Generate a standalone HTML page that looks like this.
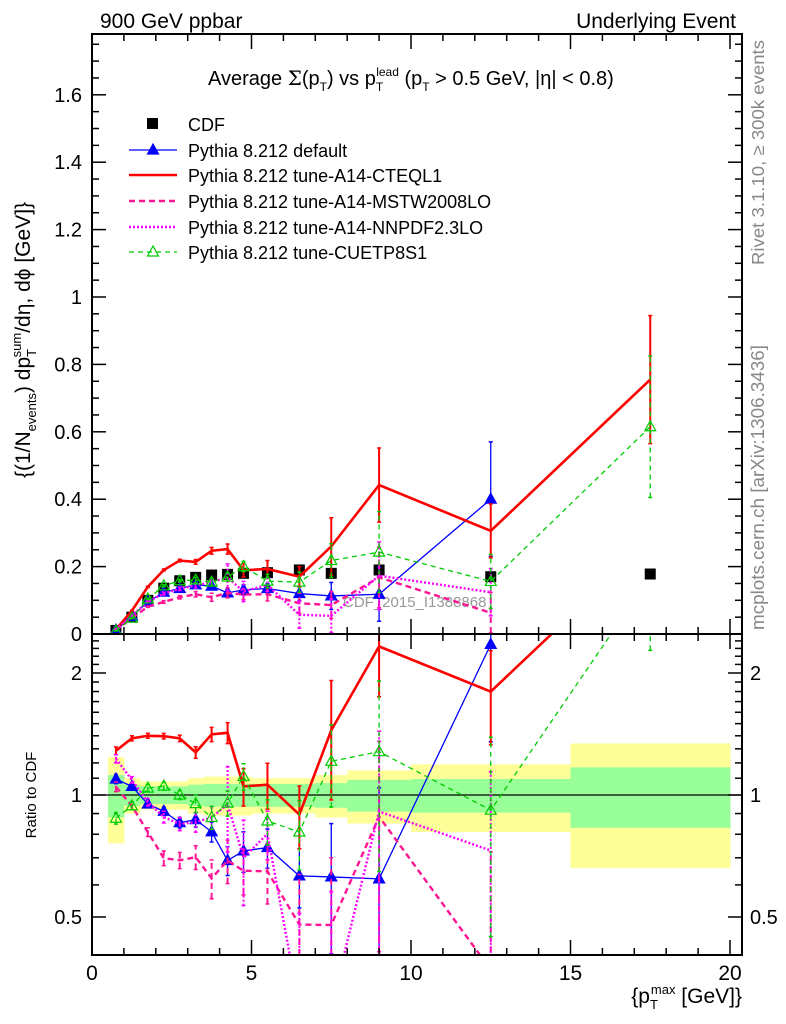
<!DOCTYPE html>
<html><head><meta charset="utf-8"><style>
html,body{margin:0;padding:0;background:#fff;overflow:hidden;width:786px;height:1024px;}
svg{display:block;font-family:"Liberation Sans",sans-serif;}
</style></head><body>
<svg id="chart" width="786" height="1024" viewBox="0 0 786 1024" xmlns="http://www.w3.org/2000/svg">
<defs>
<clipPath id="clipMain"><rect x="92" y="34" width="650" height="600"/></clipPath>
<clipPath id="clipRatio"><rect x="92" y="634" width="650" height="321"/></clipPath>
</defs>
<text x="100" y="28" font-size="21">900 GeV ppbar</text>
<text x="736" y="28" font-size="21" text-anchor="end">Underlying Event</text>
<text x="208" y="85" font-size="20">Average <tspan font-family="'DejaVu Serif',serif">Σ</tspan>(p<tspan font-size="12" dy="6">T</tspan><tspan dy="-6">) vs p</tspan><tspan font-size="12" dy="6">T</tspan><tspan font-size="12" dx="-7" dy="-15">lead</tspan><tspan dy="9"> (p</tspan><tspan font-size="12" dy="6">T</tspan><tspan dy="-6"> &gt; 0.5 GeV, |η| &lt; 0.8)</tspan></text>
<text transform="translate(764,265) rotate(-90)" font-size="17.5" textLength="225" lengthAdjust="spacingAndGlyphs" fill="#888">Rivet 3.1.10, ≥ 300k events</text>
<text transform="translate(764,630) rotate(-90)" font-size="18" textLength="285" lengthAdjust="spacingAndGlyphs" fill="#888">mcplots.cern.ch [arXiv:1306.3436]</text>
<text transform="translate(30,340) rotate(-90)" font-size="21" text-anchor="middle">{(1/N<tspan font-size="13" dy="6">events</tspan><tspan dy="-6">) dp</tspan><tspan font-size="13" dy="6">T</tspan><tspan font-size="13" dx="-7" dy="-15">sum</tspan><tspan dy="9">/dη, dϕ [GeV]}</tspan></text>
<text transform="translate(36,795) rotate(-90)" font-size="15" text-anchor="middle">Ratio to CDF</text>
<text x="742" y="1003" font-size="21" text-anchor="end">{p<tspan font-size="13" dy="6">T</tspan><tspan font-size="13" dx="-7" dy="-15">max</tspan><tspan dy="9"> [GeV]}</tspan></text>
<text x="343" y="607" font-size="15" fill="#999">CDF_2015_I1388868</text>
<g id="bands"></g>
<g id="plots"></g>
<g id="axes"></g>
<g id="legend"></g>
</svg>
<script>
const xs = [0.75,1.25,1.75,2.25,2.75,3.25,3.75,4.25,4.75,5.5,6.5,7.5,9,12.5,17.5];
const binLo = [0.5,1,1.5,2,2.5,3,3.5,4,4.5,5,6,7,8,10,15];
const binHi = [1,1.5,2,2.5,3,3.5,4,4.5,5,6,7,8,10,15,20];
const cdf = [0.0105,0.05,0.10,0.136,0.158,0.168,0.175,0.177,0.18,0.182,0.19,0.18,0.19,0.17,0.178];
const cdfStatRel = [0.12,0.06,0.05,0.05,0.05,0.06,0.065,0.065,0.065,0.065,0.065,0.07,0.09,0.095,0.17];
const cdfTotRel = [0.24,0.10,0.08,0.08,0.08,0.10,0.11,0.11,0.11,0.10,0.10,0.12,0.15,0.19,0.34];
const redVals = [0.0135,0.069,0.14,0.19,0.218,0.214,0.247,0.252,0.189,0.193,0.17,0.26,0.442,0.306,0.755];
const redErr = [0.0003,0.001,0.002,0.003,0.004,0.007,0.01,0.015,0.02,0.025,0.03,0.085,0.11,0.08,0.19];
const blueVals = [0.0115,0.0525,0.095,0.124,0.135,0.146,0.142,0.122,0.131,0.135,0.12,0.113,0.118,0.40,null];
const blueErr = [0.0003,0.001,0.002,0.003,0.004,0.006,0.008,0.01,0.015,0.015,0.02,0.04,0.08,0.17,0];
const greenVals = [0.0092,0.047,0.104,0.143,0.158,0.16,0.154,0.169,0.2,0.157,0.154,0.218,0.243,0.156,0.615];
const greenErr = [0.0003,0.001,0.002,0.003,0.004,0.008,0.01,0.012,0.015,0.02,0.03,0.05,0.12,0.08,0.21];
const mstwVals = [0.011,0.047,0.081,0.095,0.109,0.118,0.109,0.122,0.117,0.118,0.091,0.086,0.168,0.063,null];
const mstwErr = [0.0003,0.001,0.002,0.004,0.005,0.008,0.012,0.015,0.015,0.02,0.03,0.04,0.09,0.06,0];
const nnpdfVals = [0.0129,0.0545,0.096,0.12,0.134,0.144,0.154,0.168,0.126,0.146,0.057,0.054,0.173,0.124,null];
const nnpdfErr = [0.0003,0.001,0.002,0.004,0.005,0.008,0.01,0.04,0.03,0.02,0.04,0.05,0.1,0.07,0];
const mainTicks = [0,0.2,0.4,0.6,0.8,1,1.2,1.4,1.6];
const xTicks = [0,5,10,15,20];
const ratioTicks = [0.5,1,2];

const NS='http://www.w3.org/2000/svg';
const X = v => 92 + v*31.9;
const Y = v => 634 - v*337;
const R = r => 795 - Math.log2(r)*122;
function mk(tag, attrs, parent){const e=document.createElementNS(NS,tag);for(const k in attrs)e.setAttribute(k,attrs[k]);parent.appendChild(e);return e;}
const bands=document.getElementById('bands'), plots=document.getElementById('plots'), axes=document.getElementById('axes'), legend=document.getElementById('legend');

for(let i=0;i<xs.length;i++){
  const y1=mk('rect',{x:X(binLo[i]),y:R(1+cdfTotRel[i]),width:X(binHi[i])-X(binLo[i])+0.5,height:R(1-cdfTotRel[i])-R(1+cdfTotRel[i]),fill:'#ffff99'},bands);
  
  
  const g1=mk('rect',{x:X(binLo[i]),y:R(1+cdfStatRel[i]),width:X(binHi[i])-X(binLo[i])+0.5,height:R(1-cdfStatRel[i])-R(1+cdfStatRel[i]),fill:'#99ff99'},bands);
  
  
}
const one=mk('line',{x1:92,x2:742,y1:R(1),y2:R(1),stroke:'#000','stroke-width':1.2},bands);



const series=[
 {name:'pythia-default',vals:blueVals,err:blueErr,color:'#0000ff',w:1.3,dash:'',marker:'tri'},
 {name:'pythia-a14-cteql1',vals:redVals,err:redErr,color:'#ff0000',w:2.6,dash:'',marker:'none'},
 {name:'pythia-a14-mstw2008lo',vals:mstwVals,err:mstwErr,color:'#ff1493',w:2.4,dash:'6,4',marker:'none'},
 {name:'pythia-a14-nnpdf23lo',vals:nnpdfVals,err:nnpdfErr,color:'#ff00ff',w:2.4,dash:'2,2',marker:'none'},
 {name:'pythia-cuetp8s1',vals:greenVals,err:greenErr,color:'#00cc00',w:1.3,dash:'5,4',marker:'otri'}
];
function tri(g,cx,cy,col,open){
  return mk('polygon',{points:`${cx},${cy-6} ${cx-5.5},${cy+4} ${cx+5.5},${cy+4}`,fill:open?'none':col,stroke:col,'stroke-width':1.2},g);
}
function drawPanel(clip, fy, fe){
  const gp=mk('g',{'clip-path':`url(#${clip})`},plots);
  series.forEach(s=>{
    const g=mk('g',{},gp);
    
    
    let pts=[];
    for(let i=0;i<xs.length;i++){ if(s.vals[i]==null) continue;
      const y=fy(s.vals[i],i); pts.push(X(xs[i])+','+y);
      const [lo,hi]=fe(s.vals[i],s.err[i],i);
      const eb=mk('line',{x1:X(xs[i]),x2:X(xs[i]),y1:lo,y2:hi,stroke:s.color,'stroke-width':Math.min(s.w,2),'stroke-dasharray':s.dash},g);
      
      
      mk('line',{x1:X(xs[i])-2,x2:X(xs[i])+2,y1:lo,y2:lo,stroke:s.color,'stroke-width':1.5},g);
      mk('line',{x1:X(xs[i])-2,x2:X(xs[i])+2,y1:hi,y2:hi,stroke:s.color,'stroke-width':1.5},g);
    }
    const pl=mk('polyline',{points:pts.join(' '),fill:'none',stroke:s.color,'stroke-width':s.w,'stroke-dasharray':s.dash},g);
    
    
    for(let i=0;i<xs.length;i++){ if(s.vals[i]==null) continue;
      if(s.marker==='tri'||s.marker==='otri'){const m=tri(g,X(xs[i]),fy(s.vals[i],i),s.color,s.marker==='otri');
        
        }
    }
  });
}
const gcdf=mk('g',{'clip-path':'url(#clipMain)'},plots);


for(let i=0;i<xs.length;i++){
  const sq=mk('rect',{x:X(xs[i])-5.5,y:Y(cdf[i])-5.5,width:11,height:11,fill:'#000'},gcdf);
  
  
}
drawPanel('clipMain',(v,i)=>Y(v),(v,e,i)=>[Y(v-e),Y(v+e)]);
drawPanel('clipRatio',(v,i)=>R(v/cdf[i]),(v,e,i)=>[R(Math.max((v-e)/cdf[i],0.05)),R((v+e)/cdf[i])]);

const f1=mk('rect',{x:92,y:34,width:650,height:600,fill:'none',stroke:'#000','stroke-width':2},axes);


const f2=mk('rect',{x:92,y:634,width:650,height:321,fill:'none',stroke:'#000','stroke-width':2},axes);


function tick(x1,y1,x2,y2){mk('line',{x1,y1,x2,y2,stroke:'#000','stroke-width':1.5},axes);}
for(let v=0;v<=20;v++){
  const L=v%5===0?15:7;
  tick(X(v),34,X(v),34+L); tick(X(v),634,X(v),634-L); tick(X(v),634,X(v),634+L); tick(X(v),955,X(v),955-L);
}
xTicks.forEach(v=>{const t=mk('text',{x:X(v),y:980,'font-size':21,'text-anchor':'middle'},axes);t.textContent=v;
  
  });
for(let k=0;k<=35;k++){const v=k*0.05;const y=Y(v);if(y<34)break;const L=k%4===0?14:7;tick(92,y,92+L,y);tick(742,y,742-L,y);}
mainTicks.forEach(v=>{const t=mk('text',{x:82,y:Y(v)+7,'font-size':20,'text-anchor':'end'},axes);t.textContent=v;
  
  });
[0.4,0.5,0.6,0.7,0.8,0.9,1,1.1,1.2,1.3,1.4,1.5,1.6,1.7,1.8,1.9,2,2.1,2.2,2.3,2.4,2.5].forEach(r=>{
  const y=R(r); if(y<634||y>955) return; const L=ratioTicks.includes(r)?14:7; tick(92,y,92+L,y); tick(742,y,742-L,y);});
ratioTicks.forEach(r=>{
  const t=mk('text',{x:82,y:R(r)+7,'font-size':20,'text-anchor':'end'},axes);t.textContent=r;
  
  
  const t2=mk('text',{x:750,y:R(r)+7,'font-size':20},axes);t2.textContent=r;
  
  
});
const labels=['CDF','Pythia 8.212 default','Pythia 8.212 tune-A14-CTEQL1','Pythia 8.212 tune-A14-MSTW2008LO','Pythia 8.212 tune-A14-NNPDF2.3LO','Pythia 8.212 tune-CUETP8S1'];
const rows=[124,150,175,201,227,252];
const lsty=[null,series[0],series[1],series[2],series[3],series[4]];
labels.forEach((lab,i)=>{
  const g=mk('g',{},legend);
  
  
  const y=rows[i];
  if(i===0){mk('rect',{x:147,y:y-6,width:11,height:11,fill:'#000'},g);}
  else{const s=lsty[i];mk('line',{x1:129,x2:177,y1:y,y2:y,stroke:s.color,'stroke-width':Math.min(s.w,2.4),'stroke-dasharray':s.dash},g);
    if(s.marker==='tri')tri(g,153,y,s.color,false); if(s.marker==='otri')tri(g,153,y,s.color,true);}
  const t=mk('text',{x:188,y:y+7,'font-size':18},g);t.textContent=lab;
});
</script>
</body></html>
